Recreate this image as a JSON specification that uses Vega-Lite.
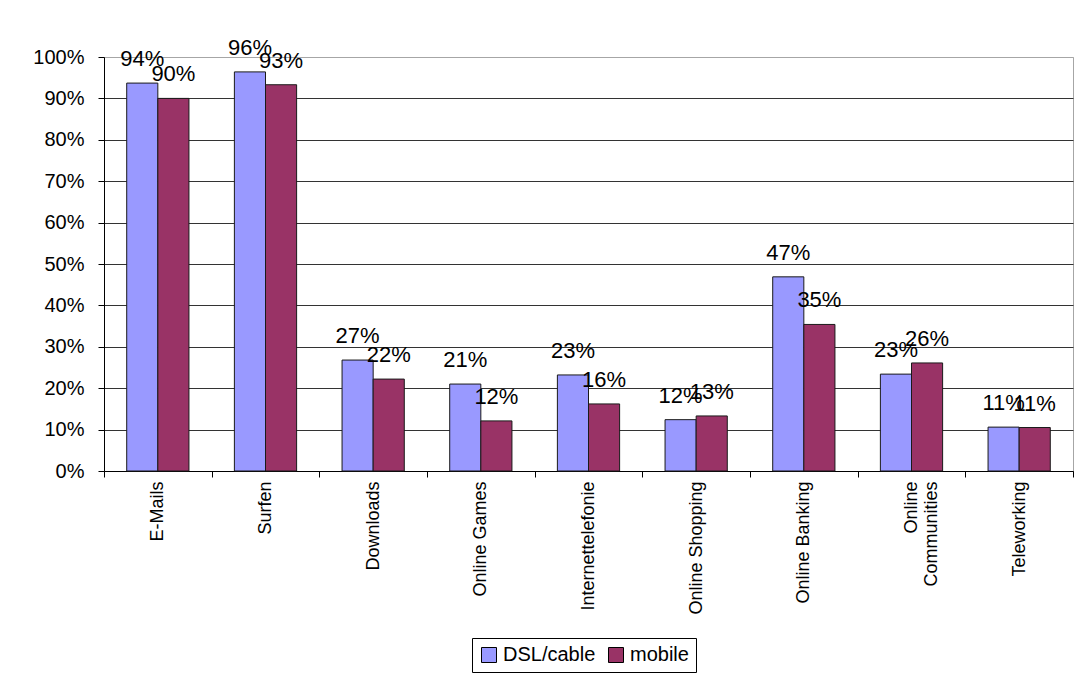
{
  "$schema": "https://vega.github.io/schema/vega-lite/v6.json",
  "width": 969,
  "height": 414,
  "autosize": {"type": "none"},
  "padding": {"left": 104, "top": 57, "right": 2, "bottom": 209},
  "background": "white",
  "config": {
    "font": "Liberation Sans",
    "view": {"stroke": "#a6a6a6", "strokeWidth": 1}
  },
  "data": {
    "values": [
      {"activity": "E-Mails", "type": "DSL/cable", "share": 0.937},
      {"activity": "E-Mails", "type": "mobile", "share": 0.900},
      {"activity": "Surfen", "type": "DSL/cable", "share": 0.964},
      {"activity": "Surfen", "type": "mobile", "share": 0.933},
      {"activity": "Downloads", "type": "DSL/cable", "share": 0.268},
      {"activity": "Downloads", "type": "mobile", "share": 0.222},
      {"activity": "Online Games", "type": "DSL/cable", "share": 0.210},
      {"activity": "Online Games", "type": "mobile", "share": 0.121},
      {"activity": "Internettelefonie", "type": "DSL/cable", "share": 0.232},
      {"activity": "Internettelefonie", "type": "mobile", "share": 0.162},
      {"activity": "Online Shopping", "type": "DSL/cable", "share": 0.124},
      {"activity": "Online Shopping", "type": "mobile", "share": 0.133},
      {"activity": "Online Banking", "type": "DSL/cable", "share": 0.469},
      {"activity": "Online Banking", "type": "mobile", "share": 0.354},
      {"activity": "Online Communities", "type": "DSL/cable", "share": 0.234},
      {"activity": "Online Communities", "type": "mobile", "share": 0.261},
      {"activity": "Teleworking", "type": "DSL/cable", "share": 0.106},
      {"activity": "Teleworking", "type": "mobile", "share": 0.105}
    ]
  },
  "encoding": {
    "x": {
      "field": "activity",
      "type": "nominal",
      "sort": null,
      "scale": {"paddingInner": 0, "paddingOuter": 0},
      "axis": {
        "title": null,
        "labelAngle": -90,
        "labelAlign": "right",
        "labelBaseline": "middle",
        "labelFontSize": 18,
        "labelColor": "black",
        "labelPadding": 4,
        "labelLimit": 0,
        "tickBand": "extent",
        "tickSize": 6,
        "tickColor": "black",
        "domainColor": "black",
        "labelExpr": "datum.value == 'Online Communities' ? ['Online', 'Communities'] : datum.value"
      }
    },
    "xOffset": {
      "field": "type",
      "type": "nominal",
      "sort": ["DSL/cable", "mobile"],
      "scale": {"paddingInner": 0, "paddingOuter": 0.73}
    },
    "y": {
      "field": "share",
      "type": "quantitative",
      "scale": {"domain": [0, 1]},
      "axis": {
        "title": null,
        "values": [0, 0.1, 0.2, 0.3, 0.4, 0.5, 0.6, 0.7, 0.8, 0.9, 1],
        "format": ".0%",
        "labelFontSize": 20,
        "labelColor": "black",
        "labelPadding": 14,
        "tickSize": 6,
        "tickColor": "black",
        "domainColor": "black",
        "grid": true,
        "gridColor": {"condition": {"test": "datum.value >= 1", "value": "#a6a6a6"}, "value": "#333333"}
      }
    }
  },
  "layer": [
    {
      "mark": {"type": "bar", "stroke": "#1a1a1a", "strokeWidth": 1},
      "encoding": {
        "color": {
          "field": "type",
          "type": "nominal",
          "scale": {"domain": ["DSL/cable", "mobile"], "range": ["#9999FF", "#993366"]},
          "legend": {
            "title": null,
            "orient": "none",
            "legendX": 368,
            "legendY": 581,
            "direction": "horizontal",
            "labelFontSize": 20,
            "labelColor": "black",
            "symbolType": "square",
            "symbolSize": 225,
            "symbolStrokeColor": "black",
            "symbolStrokeWidth": 1,
            "strokeColor": "black",
            "padding": 7,
            "columnPadding": 10,
            "labelOffset": 4
          }
        }
      }
    },
    {
      "mark": {"type": "text", "baseline": "alphabetic", "dy": -17, "fontSize": 22, "color": "black"},
      "encoding": {
        "text": {"field": "share", "type": "quantitative", "format": ".0%"}
      }
    }
  ]
}
